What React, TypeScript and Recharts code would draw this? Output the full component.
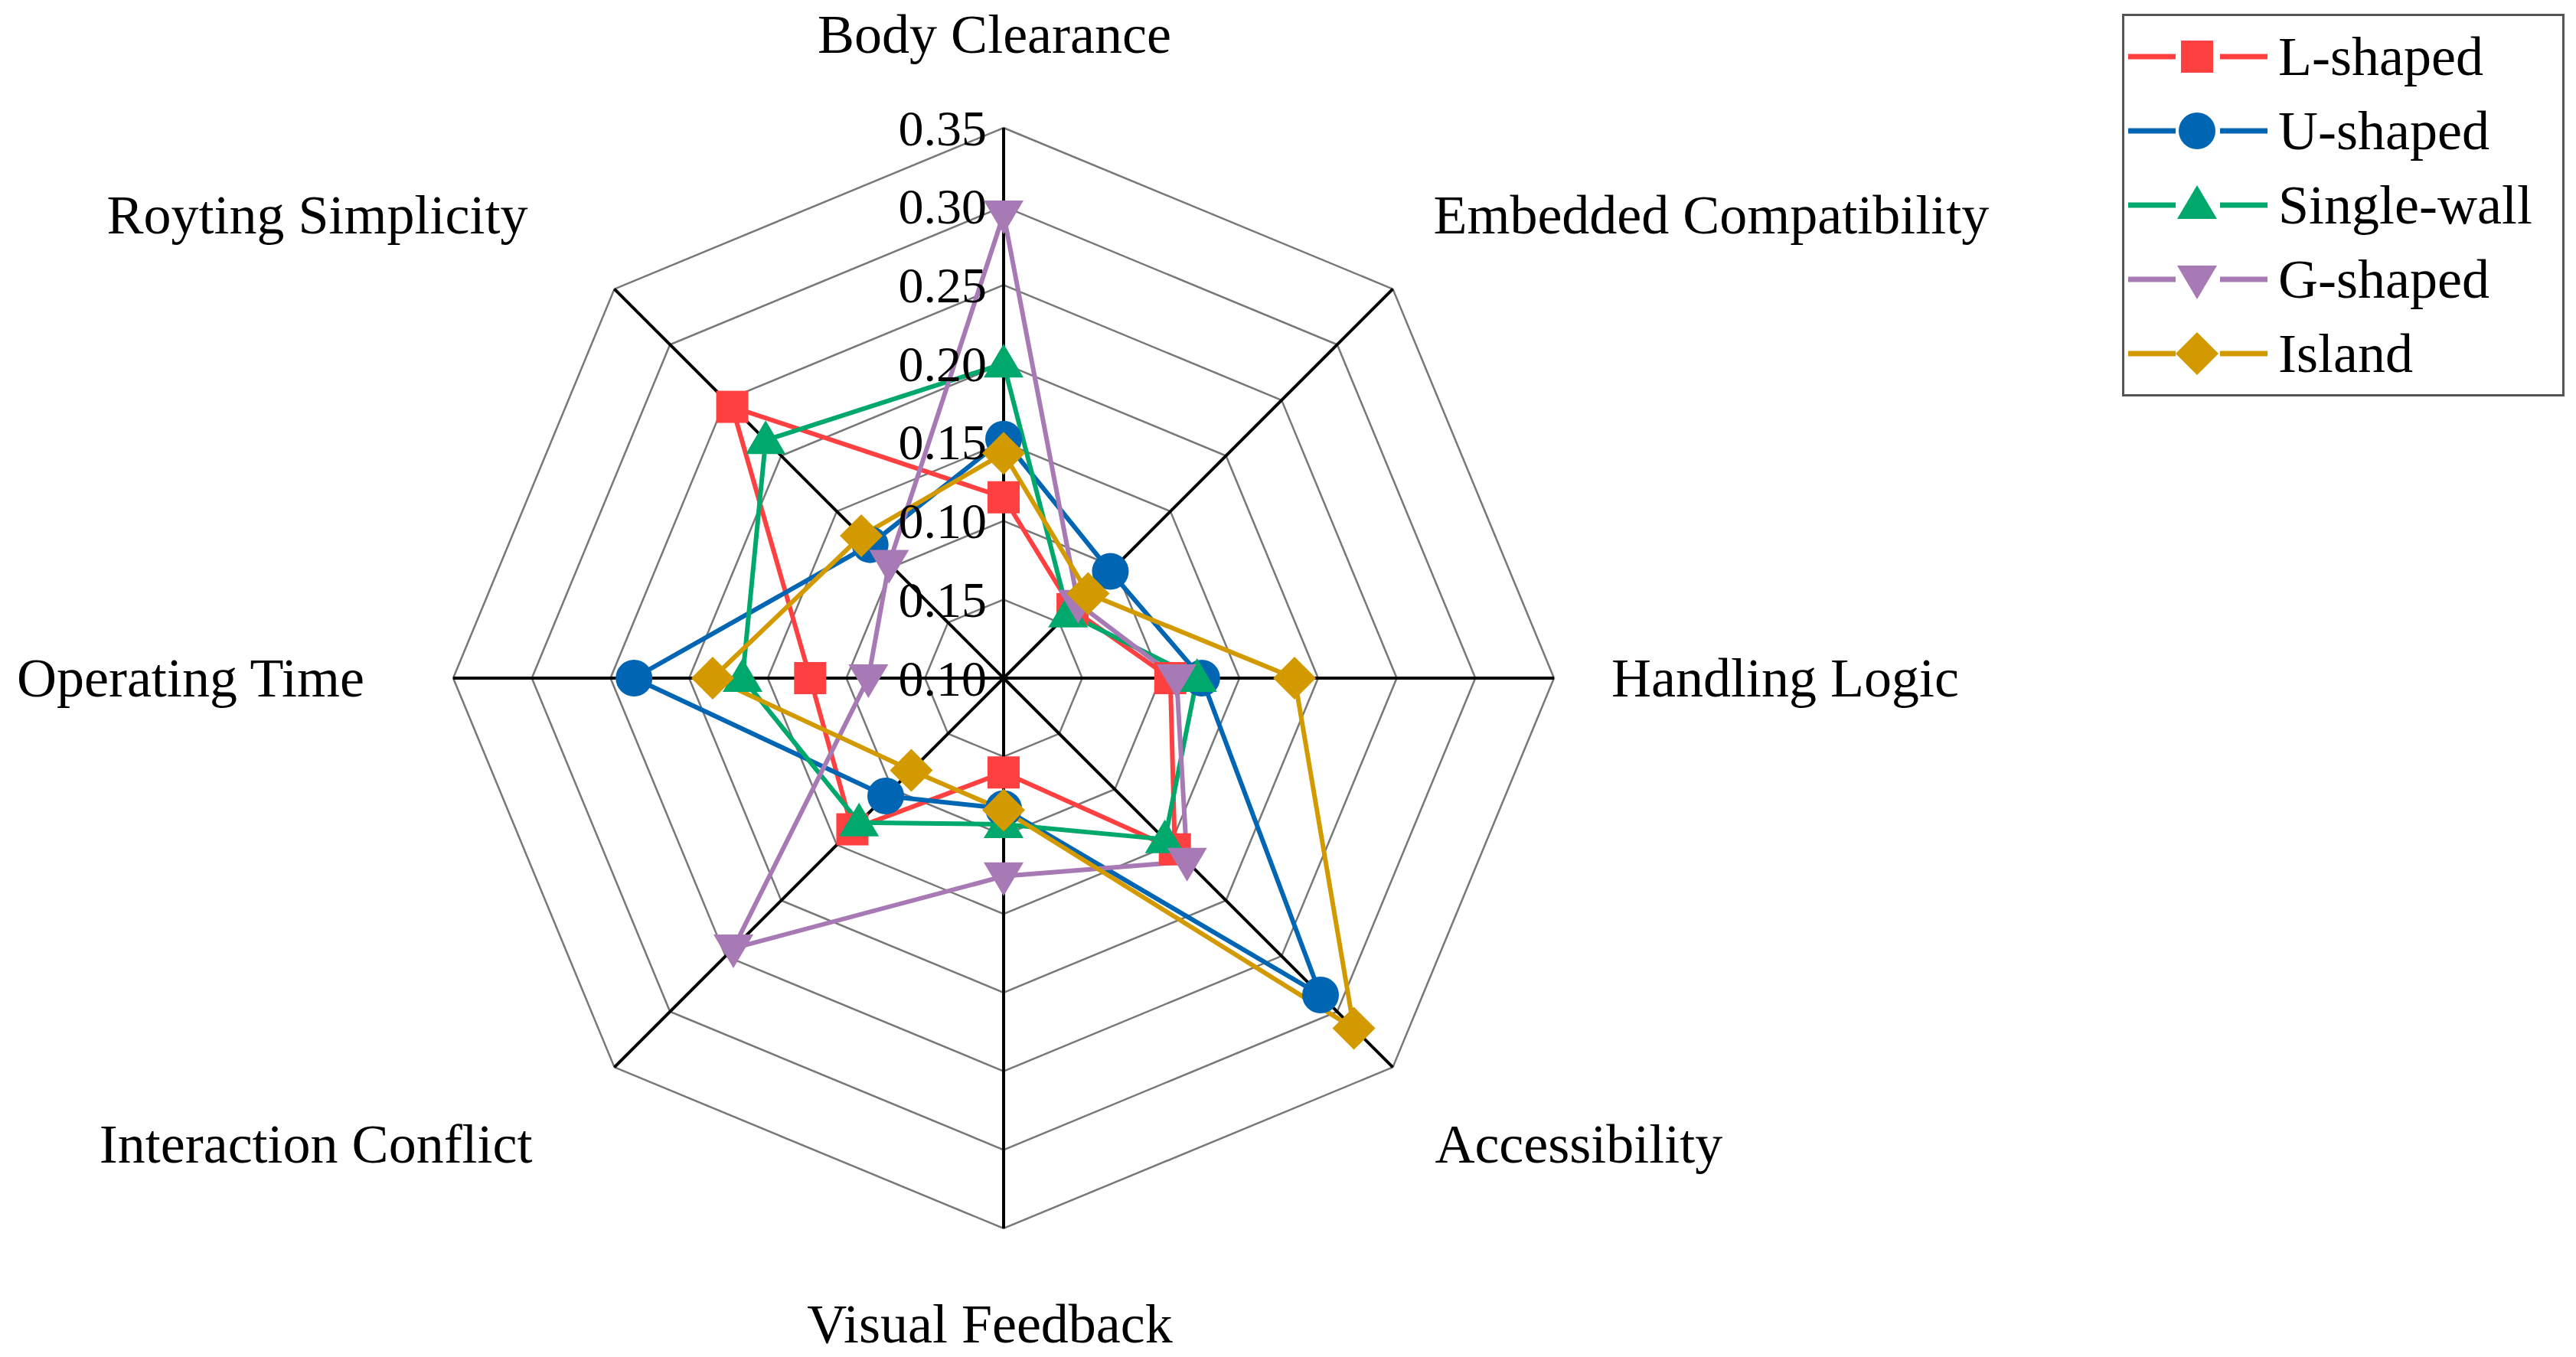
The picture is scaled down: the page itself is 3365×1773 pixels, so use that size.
import React from 'react'
import { RadarChart, Radar, PolarGrid, PolarAngleAxis, PolarRadiusAxis } from 'recharts'

// Radar of the eight layout criteria, one polygon per kitchen layout.
// Axis order runs clockwise from the top.

const CRITERIA = [
  'Body Clearance',
  'Embedded Compatibility',
  'Handling Logic',
  'Accessibility',
  'Visual Feedback',
  'Interaction Conflict',
  'Operating Time',
  'Royting Simplicity',
]

const L_SHAPED = [0.115, 0.062, 0.106, 0.154, 0.060, 0.136, 0.123, 0.244]
const U_SHAPED = [0.152, 0.096, 0.126, 0.285, 0.083, 0.106, 0.235, 0.120]
const SINGLE_WALL = [0.200, 0.058, 0.123, 0.145, 0.093, 0.130, 0.166, 0.214]
const G_SHAPED = [0.295, 0.067, 0.110, 0.165, 0.126, 0.243, 0.086, 0.103]
const ISLAND = [0.143, 0.076, 0.185, 0.315, 0.084, 0.083, 0.185, 0.128]

const RADIUS_TICKS = [0, 0.05, 0.1, 0.15, 0.2, 0.25, 0.3, 0.35]
// labels as printed in the source figure
const RADIUS_TICK_LABELS = ['0.10', '0.15', '0.10', '0.15', '0.20', '0.25', '0.30', '0.35']

type Shape = 'square' | 'circle' | 'up' | 'down' | 'diamond'

const SERIES: { key: string; name: string; color: string; shape: Shape; values: number[] }[] = [
  { key: 'l', name: 'L-shaped', color: '#FF4040', shape: 'square', values: L_SHAPED },
  { key: 'u', name: 'U-shaped', color: '#0066B3', shape: 'circle', values: U_SHAPED },
  { key: 's', name: 'Single-wall', color: '#00A86B', shape: 'up', values: SINGLE_WALL },
  { key: 'g', name: 'G-shaped', color: '#A779B5', shape: 'down', values: G_SHAPED },
  { key: 'i', name: 'Island', color: '#D39A00', shape: 'diamond', values: ISLAND },
]

const FONT = '"Liberation Serif", "Times New Roman", serif'
const W = 3365
const H = 1773
const CX = 1311
const CY = 886
const R = 719

// label placement relative to the outer vertex of each spoke: [dx, dy, anchor]
const LABEL_OFFSETS: [number, number, 'start' | 'middle' | 'end'][] = [
  [-12, -122, 'middle'],
  [53, -97, 'start'],
  [75, 0, 'start'],
  [55, 101, 'start'],
  [-18, 125, 'middle'],
  [-107, 101, 'end'],
  [-116, 0, 'end'],
  [-113, -97, 'end'],
]

const data = CRITERIA.map((c, i) => ({
  criterion: c,
  ...Object.fromEntries(SERIES.map(s => [s.key, s.values[i]])),
}))

function Marker({ shape, x, y, color }: { shape: Shape; x: number; y: number; color: string }) {
  if (shape === 'square') return <rect x={x - 21} y={y - 21} width={42} height={42} fill={color} />
  if (shape === 'circle') return <circle cx={x} cy={y} r={24} fill={color} />
  if (shape === 'up')
    return <polygon points={`${x},${y - 26} ${x + 26},${y + 18} ${x - 26},${y + 18}`} fill={color} />
  if (shape === 'down')
    return <polygon points={`${x - 26},${y - 18} ${x + 26},${y - 18} ${x},${y + 26}`} fill={color} />
  return <polygon points={`${x},${y - 28} ${x + 28},${y} ${x},${y + 28} ${x - 28},${y}`} fill={color} />
}

function AngleTick(props: any) {
  const { x, y, payload, index } = props
  const rad = (payload.coordinate * Math.PI) / 180
  const vx = x - 8 * Math.cos(rad)
  const vy = y + 8 * Math.sin(rad)
  const [dx, dy, anchor] = LABEL_OFFSETS[index] ?? [0, 0, 'middle']
  return (
    <text x={vx + dx} y={vy + dy} textAnchor={anchor} dominantBaseline="central"
      fontFamily={FONT} fontSize={72} fill="#000">
      {payload.value}
    </text>
  )
}

function RadiusTick(props: any) {
  const { x, y, index } = props
  return (
    <text x={x - 22} y={y} textAnchor="end" dominantBaseline="central"
      fontFamily={FONT} fontSize={66} fill="#000">
      {RADIUS_TICK_LABELS[index]}
    </text>
  )
}

function LegendBox() {
  return (
    <svg width={580} height={502} style={{ position: 'absolute', left: 2772, top: 18 }}>
      <rect x={1.5} y={1.5} width={575} height={497} fill="#fff" stroke="#555" strokeWidth={3} />
      {SERIES.map((s, i) => {
        const y = 56 + i * 97
        return (
          <g key={s.key}>
            <line x1={8} x2={70} y1={y} y2={y} stroke={s.color} strokeWidth={7} />
            <line x1={128} x2={190} y1={y} y2={y} stroke={s.color} strokeWidth={7} />
            <Marker shape={s.shape} x={98} y={y} color={s.color} />
            <text x={204} y={y} dominantBaseline="central" fontFamily={FONT} fontSize={72} fill="#000">
              {s.name}
            </text>
          </g>
        )
      })}
    </svg>
  )
}

export default function App() {
  return (
    <div style={{ position: 'absolute', left: 0, top: 0, width: W, height: H, background: '#fff' }}>
      <RadarChart width={W} height={H} data={data} cx={CX} cy={CY} outerRadius={R}
        startAngle={90} endAngle={-270} margin={{ top: 0, right: 0, bottom: 0, left: 0 }}>
        <PolarGrid gridType="polygon" radialLines={false} stroke="#777" strokeWidth={2.5} />
        <PolarGrid gridType="polygon" polarRadius={[]} stroke="#000" strokeWidth={4} />
        <PolarAngleAxis dataKey="criterion" tick={AngleTick} tickLine={false} axisLine={false} />
        <PolarRadiusAxis angle={90} domain={[0, 0.35]} ticks={RADIUS_TICKS} tickCount={8}
          tick={RadiusTick} axisLine={false} />
        {SERIES.map(s => (
          <Radar
            key={s.key}
            name={s.name}
            dataKey={s.key}
            stroke={s.color}
            strokeWidth={6}
            fill="none"
            fillOpacity={0}
            isAnimationActive={false}
            dot={(p: any) => <Marker key={p.key ?? `${s.key}-${p.index}`} shape={s.shape} x={p.cx} y={p.cy} color={s.color} />}
          />
        ))}
      </RadarChart>
      <LegendBox />
    </div>
  )
}
